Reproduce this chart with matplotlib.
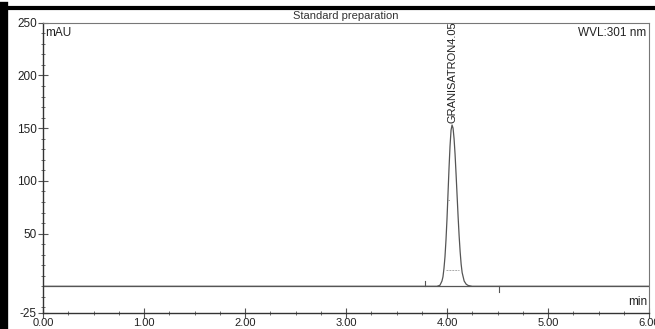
import matplotlib
matplotlib.use("Agg")
import matplotlib.pyplot as plt
from matplotlib.ticker import MultipleLocator, FixedLocator
from matplotlib.lines import Line2D

plt.rcParams['font.family'] = ['Liberation Sans', 'DejaVu Sans']

# chromatogram points (time in min, signal in mAU)
time_min = [0.00, 3.70, 3.90, 3.93, 3.95, 3.96, 3.97, 3.98, 3.99, 4.00, 4.01, 4.02,
            4.03, 4.04, 4.05, 4.06, 4.07, 4.08, 4.09, 4.10, 4.11, 4.12, 4.13,
            4.14, 4.15, 4.17, 4.19, 4.21, 4.25, 6.00]
signal_mau = [0.0, 0.0, 0.0, 1.0, 5.0, 9.0, 17.0, 28.0, 44.0, 64.0, 88.0, 112.0,
              133.0, 148.0, 153.0, 150.0, 140.0, 125.0, 106.0, 86.0, 66.0, 48.0, 33.0,
              21.0, 13.0, 5.0, 2.0, 0.8, 0.0, 0.0]

peak_name = "GRANISATRON"
peak_rt = 4.05
peak_height = 153.0
integration_marks = [3.78, 4.51]

title = "Standard preparation"
y_unit = "mAU"
x_unit = "min"
wavelength = "WVL:301 nm"
x_ticks = [0, 1, 2, 3, 4, 5, 6]
x_ticklabels = ["0.00", "1.00", "2.00", "3.00", "4.00", "5.00", "6.00"]
y_ticks = [-25, 50, 100, 150, 200, 250]

W, H = 655, 329
fig = plt.figure(figsize=(W / 100, H / 100), dpi=100)
ax = fig.add_axes([43 / W, 1 - 312.7 / H, (649 - 43) / W, (312.7 - 22.7) / H])

lc = "#555555"
ax.plot(time_min, signal_mau, color=lc, lw=0.9)
ax.axhline(0, color=lc, lw=0.9)

# integration marks
for t in integration_marks:
    if t < peak_rt:
        ax.plot([t, t], [0, 5], color=lc, lw=0.8)
    else:
        ax.plot([t, t], [0, -5], color=lc, lw=0.8)
# half-width markers
ax.plot([3.99, 4.12], [15.5, 15.5], color="#aaaaaa", lw=0.7, ls=(0, (2, 1)))
ax.plot([4.01, 4.02], [82, 82], color="#aaaaaa", lw=0.7)

ax.set_xlim(0, 6)
ax.set_ylim(-25, 250)

ax.set_xticks(x_ticks)
ax.set_xticklabels(x_ticklabels)
ax.xaxis.set_minor_locator(MultipleLocator(0.25))
ax.set_yticks(y_ticks)
ax.set_yticklabels([str(v) for v in y_ticks])
ax.yaxis.set_minor_locator(MultipleLocator(10))

ax.tick_params(axis='both', which='major', direction='inout', length=7, width=0.8,
               color=lc, labelcolor="#222222")
ax.tick_params(axis='y', which='major', pad=1, labelsize=8.5)
ax.tick_params(axis='x', which='major', pad=0, labelsize=8)
ax.tick_params(axis='both', which='minor', direction='inout', length=3, width=0.6, color=lc)

for s in ['left', 'bottom']:
    ax.spines[s].set_color("#333333")
    ax.spines[s].set_linewidth(1.0)
for s in ['top', 'right']:
    ax.spines[s].set_color("#777777")
    ax.spines[s].set_linewidth(0.8)

ax.text(0.5, 1.005, title, transform=ax.transAxes, ha='center', va='bottom',
        fontsize=8, color="#333333")
ax.text(0.004, 0.985, y_unit, transform=ax.transAxes, ha='left', va='top',
        fontsize=8.5, color="#222222")
ax.text(0.995, 0.985, wavelength, transform=ax.transAxes, ha='right', va='top',
        fontsize=8.5, color="#222222")
ax.text(0.997, 0.015, x_unit, transform=ax.transAxes, ha='right', va='bottom',
        fontsize=8.5, color="#222222")
ax.text(peak_rt, peak_height + 2, f"{peak_name}{peak_rt:.2f}", rotation=90,
        ha='center', va='bottom', fontsize=8, color="#222222")

# black frame of the scanned image (top and left)
fig.add_artist(Line2D([0, 1], [1 - 7.5 / H, 1 - 7.5 / H], transform=fig.transFigure,
                      color='black', lw=3))
fig.add_artist(Line2D([4 / W, 4 / W], [0, 1 - 6 / H], transform=fig.transFigure,
                      color='black', lw=6))

fig.savefig("out.png", dpi=100)
